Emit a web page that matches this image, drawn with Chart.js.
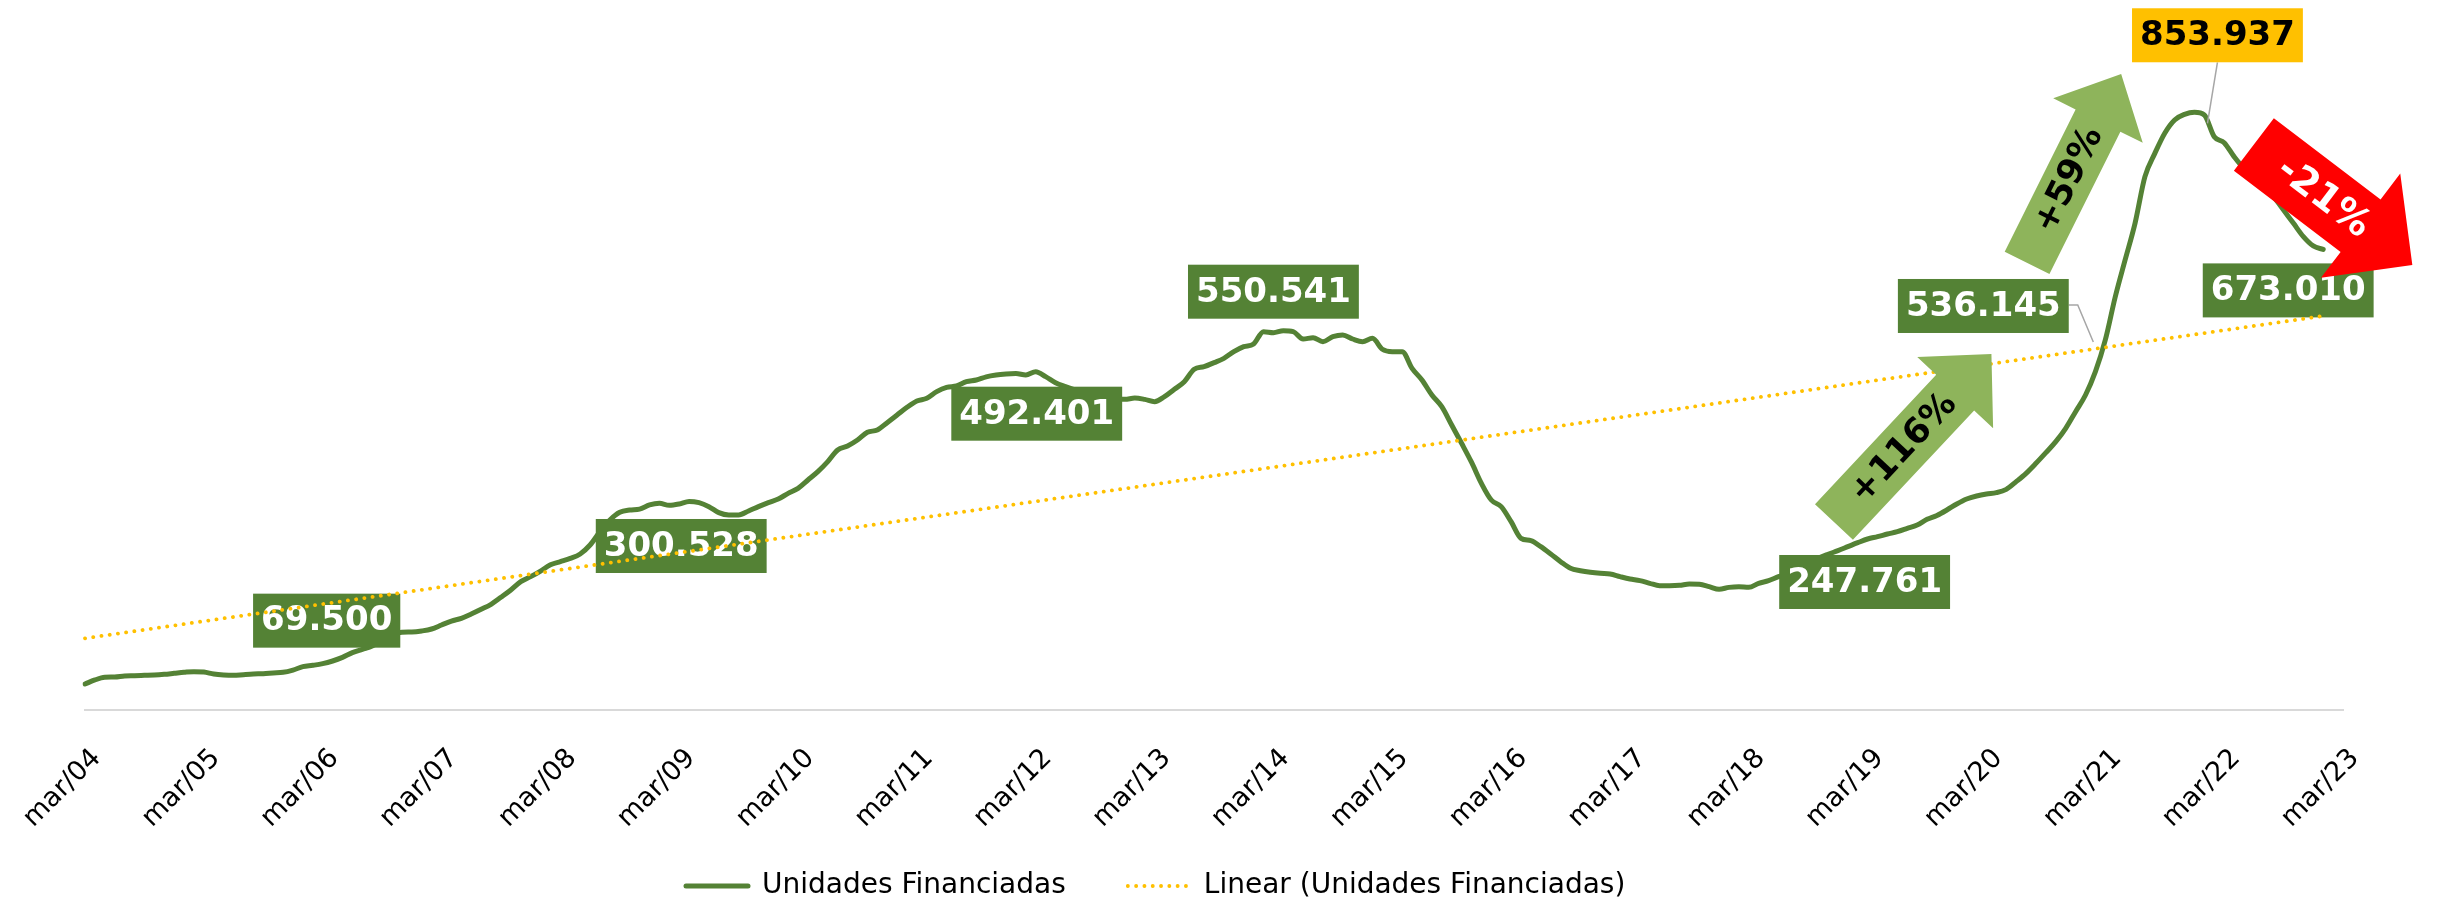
<!DOCTYPE html>
<html lang="pt-BR">
<head>
<meta charset="utf-8">
<title>Unidades Financiadas</title>
<script src="https://cdn.jsdelivr.net/npm/chart.js@4.4.1/dist/chart.umd.min.js"></script>
<style>
    html, body { margin: 0; padding: 0; background: #ffffff; }
    #wrap { position: relative; width: 2443px; height: 906px; }
</style>
</head>
<body>
<div id="wrap"><canvas id="grafico"></canvas></div>
<script>
// ---------------------------------------------------------------------------
// DADOS

const MESES = ['jan', 'fev', 'mar', 'abr', 'mai', 'jun', 'jul', 'ago', 'set', 'out', 'nov', 'dez'];
const MES_INICIAL = 2;      // mar
const ANO_INICIAL = 2004;
const TOTAL_MESES = 229;    // mar/04 .. mar/23

// Unidades financiadas (acumulado 12 meses), mar/04 .. jan/23, uma linha por ano (mar..fev)
const unidadesFinanciadas = [
    37100, 42900, 46700, 47100, 48600, 49000, 49500, 50000, 51000, 52400, 53800, 54800,
    54300, 51400, 50000, 49500, 50500, 51400, 51900, 52900, 53800, 57100, 61900, 63800,
    66200, 70000, 75200, 81900, 86700, 91400, 100000, 107100, 111000, 111400, 112900, 115700,
    121400, 127100, 131000, 137100, 143800, 151000, 161000, 171400, 183300, 190500, 198500, 207500,
    212000, 216600, 222900, 235700, 254800, 271400, 282400, 285700, 287000, 292900, 295200, 292400,
    294300, 298000, 296200, 290500, 281900, 278600, 278600, 284300, 290500, 296200, 301400, 309500,
    316700, 328600, 340500, 354800, 371400, 377100, 385700, 396700, 400000, 410500, 421400, 432400,
    441400, 445300, 454800, 461000, 462900, 469000, 471400, 476000, 478600, 480000, 480700, 478600,
    483300, 476200, 467600, 461900, 457000, 452400, 448600, 446600, 445200, 443800, 445700, 443800,
    440500, 447600, 458100, 469000, 486700, 490500, 496200, 502400, 511900, 519000, 522900, 540500,
    539000, 541900, 540500, 530000, 531900, 526200, 533300, 535700, 530000, 526200, 531000, 515300,
    511900, 511900, 488100, 471400, 450000, 433300, 407100, 381000, 354000, 323800, 300000, 290500,
    269000, 245300, 241900, 233300, 222900, 211900, 202400, 199000, 196700, 195200, 194300, 190500,
    187100, 184800, 181000, 177600, 177600, 178100, 180000, 179500, 176200, 172400, 175200, 176200,
    175200, 181000, 184800, 190500, 195200, 202400, 209500, 216700, 222400, 227600, 233300, 239000,
    244300, 247600, 251400, 254800, 259500, 264300, 272400, 278000, 285700, 294300, 301400, 305700,
    308600, 310500, 315200, 326200, 338100, 352400, 367600, 383300, 402400, 426200, 450000, 483300,
    528600, 590000, 642900, 695200, 761900, 795200, 824000, 842900, 851000, 853900, 850000, 819000,
    810500, 790500, 773800, 764300, 752400, 733300, 714300, 695200, 676200, 662900, 658000
];

// Linha de tendencia linear: valor no primeiro e no ultimo mes com dado
const tendenciaExtremos = [102400, 562900];

// Rotulos destacados: mes (indice) e texto mostrado
const destaqueIndices = [24, 60, 96, 120, 180, 204, 213, 226];
const destaqueTextos = ['69.500', '300.528', '492.401', '550.541', '247.761', '536.145', '853.937', '673.010'];

// Setas de variacao: texto, cauda e ponta em (indice do mes, unidades)
const setaTextos = ['+116%', '+59%', '-21%'];
const setaCaudas = [[176.6, 268600], [196.1, 638600], [219.0, 807900]];
const setaPontas = [[192.5, 508600], [205.6, 908600], [235.0, 635700]];

// ---------------------------------------------------------------------------
// ESTILO

const VERDE = '#548235';
const VERDE_CLARO = '#8EB45B';
const AMARELO = '#FFC000';
const VERMELHO = '#FF0000';
const FONTE = '"DejaVu Sans", Verdana, sans-serif';
const TAM_FONTE = 28;
const TAM_FONTE_TICK = 27;

const destaqueEstilo = [
    { dx: 4, dy: -43, fundo: VERDE, cor: '#ffffff' },
    { dx: 2, dy: 42, fundo: VERDE, cor: '#ffffff' },
    { dx: 1, dy: 42, fundo: VERDE, cor: '#ffffff' },
    { dx: 0, dy: -41, fundo: VERDE, cor: '#ffffff' },
    { dx: -3, dy: 43, fundo: VERDE, cor: '#ffffff' },
    { dx: -122, dy: -34, fundo: VERDE, cor: '#ffffff', guia: 'direita', alvo: [-12, 2] },
    { dx: 23, dy: -77, fundo: AMARELO, cor: '#000000', guia: 'baixo', alvo: [13, 11] },
    { dx: -35, dy: 41, fundo: VERDE, cor: '#ffffff' }
];

const setaEstilo = [
    { haste: 52, cabecaLarg: 104, cabecaComp: 53, cor: VERDE_CLARO, corTexto: '#000000', fonte: 35 },
    { haste: 50, cabecaLarg: 100, cabecaComp: 52, cor: VERDE_CLARO, corTexto: '#000000', fonte: 35 },
    { haste: 66, cabecaLarg: 131, cabecaComp: 65, cor: VERMELHO, corTexto: '#ffffff', fonte: 38 }
];

// rotulos do eixo x: inclinados 45 graus, fim do texto logo abaixo e a direita do tick
const TICK_DESLOC = [17, 49];

// posicao da legenda no original (inicio da primeira amostra, centro do texto)
const LEGENDA_INICIO_X = 686;
const LEGENDA_CENTRO_Y = 886;

// ---------------------------------------------------------------------------
// MONTAGEM

const rotulos = [];
for (let i = 0; i < TOTAL_MESES; i++) {
    const m = MES_INICIAL + i;
    const ano = ANO_INICIAL + Math.floor(m / 12);
    rotulos.push(`${MESES[m % 12]}/${String(ano).slice(2)}`);
}

const ultimoIndice = unidadesFinanciadas.length - 1;
const tendencia = rotulos.map((_, i) => {
    if (i === 0) return tendenciaExtremos[0];
    if (i === ultimoIndice) return tendenciaExtremos[1];
    return null;
});

function desenhaSeta(ctx, cauda, ponta, st, texto) {
    const [tx, ty] = cauda;
    const [hx, hy] = ponta;
    const comp = Math.hypot(hx - tx, hy - ty);
    const ux = (hx - tx) / comp, uy = (hy - ty) / comp;
    const nx = -uy, ny = ux;
    const bx = hx - ux * st.cabecaComp, by = hy - uy * st.cabecaComp;
    const h = st.haste / 2, c = st.cabecaLarg / 2;

    ctx.beginPath();
    ctx.moveTo(tx + nx * h, ty + ny * h);
    ctx.lineTo(bx + nx * h, by + ny * h);
    ctx.lineTo(bx + nx * c, by + ny * c);
    ctx.lineTo(hx, hy);
    ctx.lineTo(bx - nx * c, by - ny * c);
    ctx.lineTo(bx - nx * h, by - ny * h);
    ctx.lineTo(tx - nx * h, ty - ny * h);
    ctx.closePath();
    ctx.fillStyle = st.cor;
    ctx.fill();

    ctx.save();
    ctx.translate(tx + ux * comp * 0.44, ty + uy * comp * 0.44);
    ctx.rotate(Math.atan2(uy, ux));
    ctx.font = `bold ${st.fonte}px ${FONTE}`;
    ctx.fillStyle = st.corTexto;
    ctx.textAlign = 'center';
    ctx.textBaseline = 'middle';
    ctx.fillText(texto, 0, 1);
    ctx.restore();
}

const destaquesPlugin = {
    id: 'destaques',
    afterLayout(chart) {
        // legenda posicionada como no original
        const lg = chart.legend;
        const pad = lg.options.labels.padding;
        lg.left = LEGENDA_INICIO_X - pad;
        lg.right = chart.width;
        lg.top = LEGENDA_CENTRO_Y - TAM_FONTE / 2 - pad;
        lg.bottom = chart.height;
    },
    afterDatasetDraw(chart, args) {
        if (args.index !== 0) return;
        const { ctx, scales: { x, y } } = chart;
        ctx.save();
        ctx.font = `bold 34px ${FONTE}`;
        ctx.textAlign = 'center';
        ctx.textBaseline = 'middle';
        destaqueIndices.forEach((idx, i) => {
            const st = destaqueEstilo[i];
            const texto = destaqueTextos[i];
            const px = x.getPixelForValue(idx);
            const py = y.getPixelForValue(unidadesFinanciadas[idx]);
            const w = ctx.measureText(texto).width + 16;
            const h = 54;
            const cx = px + st.dx, cy = py + st.dy;
            const esq = cx - w / 2, topo = cy - h / 2;

            if (st.guia) {
                ctx.beginPath();
                ctx.strokeStyle = '#A6A6A6';
                ctx.lineWidth = 1.5;
                if (st.guia === 'direita') {
                    ctx.moveTo(esq + w, cy - 1);
                    ctx.lineTo(esq + w + 9, cy - 1);
                } else {
                    ctx.moveTo(cx, topo + h);
                }
                ctx.lineTo(px + st.alvo[0], py + st.alvo[1]);
                ctx.stroke();
            }

            ctx.fillStyle = st.fundo;
            ctx.fillRect(esq, topo, w, h);
            ctx.fillStyle = st.cor;
            ctx.fillText(texto, cx, cy + 1);
        });
        ctx.restore();
    },
    afterDatasetsDraw(chart) {
        const { ctx, scales: { x, y } } = chart;
        ctx.save();
        setaTextos.forEach((texto, i) => {
            const cauda = [x.getPixelForValue(setaCaudas[i][0]), y.getPixelForValue(setaCaudas[i][1])];
            const ponta = [x.getPixelForValue(setaPontas[i][0]), y.getPixelForValue(setaPontas[i][1])];
            desenhaSeta(ctx, cauda, ponta, setaEstilo[i], texto);
        });
        ctx.restore();
    },
    afterDraw(chart) {
        // rotulos anuais do eixo x, inclinados a 45 graus
        const { ctx, scales: { x } } = chart;
        ctx.save();
        ctx.font = `${TAM_FONTE_TICK}px ${FONTE}`;
        ctx.fillStyle = '#000000';
        ctx.textAlign = 'right';
        ctx.textBaseline = 'alphabetic';
        rotulos.forEach((rot, i) => {
            if (i % 12 !== 0) return;
            ctx.save();
            ctx.translate(x.getPixelForValue(i) + TICK_DESLOC[0], x.top + TICK_DESLOC[1]);
            ctx.rotate(-Math.PI / 4);
            ctx.fillText(rot, 0, 0);
            ctx.restore();
        });
        ctx.restore();
    }
};

// ---------------------------------------------------------------------------
// GRAFICO

const ctx = document.getElementById('grafico').getContext('2d');

new Chart(ctx, {
    type: 'line',
    data: {
        labels: rotulos,
        datasets: [
            {
                label: 'Unidades Financiadas',
                data: unidadesFinanciadas,
                borderColor: VERDE,
                backgroundColor: VERDE,
                borderWidth: 5,
                borderCapStyle: 'round',
                borderJoinStyle: 'round',
                pointRadius: 0,
                cubicInterpolationMode: 'monotone',
                order: 1
            },
            {
                label: 'Linear (Unidades Financiadas)',
                data: tendencia,
                borderColor: AMARELO,
                backgroundColor: AMARELO,
                borderWidth: 3.8,
                borderDash: [0.1, 8.2],
                borderCapStyle: 'round',
                pointRadius: 0,
                spanGaps: true,
                order: 0
            }
        ]
    },
    options: {
        responsive: true,
        maintainAspectRatio: false,
        devicePixelRatio: 1,
        animation: false,
        layout: { padding: { left: 85, right: 100, top: 10, bottom: 0 } },
        scales: {
            x: {
                grid: { display: false, drawTicks: false },
                border: { display: true, color: '#D9D9D9', width: 2 },
                ticks: { display: false, autoSkip: false },
                afterFit: (scale) => {
                    // espaco reservado aos rotulos inclinados
                    scale.height = 136;
                    scale.paddingLeft = 0;
                    scale.paddingRight = 0;
                }
            },
            y: {
                display: false,
                min: 0,
                max: 1000000
            }
        },
        plugins: {
            legend: {
                position: 'bottom',
                align: 'start',
                maxHeight: 60,
                labels: {
                    usePointStyle: true,
                    pointStyle: 'line',
                    pointStyleWidth: 62,
                    padding: 62,
                    color: '#000000',
                    font: { family: FONTE, size: TAM_FONTE },
                    generateLabels: (chart) => chart.data.datasets.map((ds, i) => ({
                        text: ds.label,
                        datasetIndex: i,
                        fillStyle: ds.borderColor,
                        strokeStyle: ds.borderColor,
                        lineWidth: ds.borderWidth,
                        lineDash: ds.borderDash || [],
                        lineCap: ds.borderCapStyle,
                        pointStyle: 'line',
                        fontColor: '#000000',
                        hidden: false
                    }))
                }
            },
            tooltip: { enabled: false }
        }
    },
    plugins: [destaquesPlugin]
});
</script>
</body>
</html>
